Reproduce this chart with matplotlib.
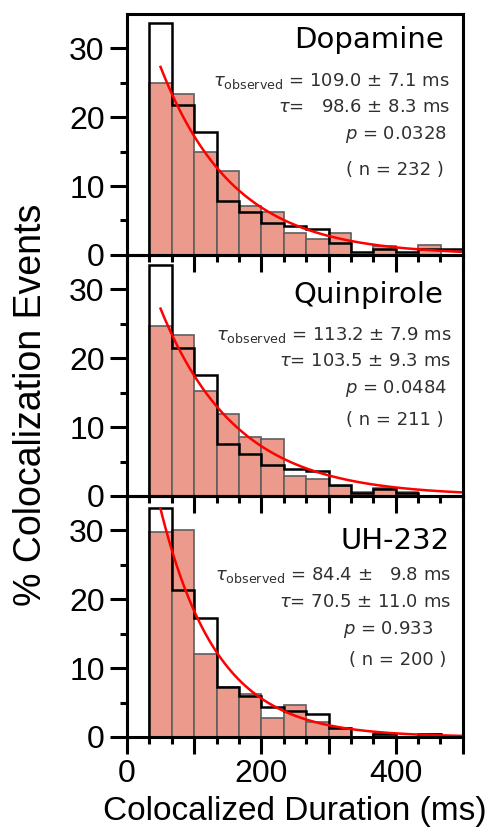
import numpy as np
import matplotlib
matplotlib.use("Agg")
import matplotlib.pyplot as plt
from matplotlib.ticker import MultipleLocator, FixedLocator, NullFormatter

# ---------------- data ----------------
bin_edges = [33.3, 66.7, 100.0, 133.3, 166.7, 200.0, 233.3, 266.7, 300.0,
             333.3, 366.7, 400.0, 433.3, 466.7, 500.0]

names = ["Dopamine", "Quinpirole", "UH-232"]

dopamine_fill = [25.0, 23.4, 14.9, 12.2, 7.1, 6.2, 3.2, 2.3, 3.2, 0.0, 1.3, 0.0, 1.4, 0.0]
dopamine_outline = [33.7, 21.7, 17.8, 7.8, 6.3, 4.7, 4.2, 3.8, 1.7, 0.4, 0.9, 0.4, 0.9, 0.9]

quinpirole_fill = [24.7, 23.3, 15.2, 11.9, 8.6, 8.2, 2.9, 2.5, 1.5, 0.6, 1.2, 0.6, 0.0, 0.0]
quinpirole_outline = [33.5, 21.5, 17.6, 7.6, 6.1, 4.5, 3.9, 3.6, 1.6, 0.5, 1.0, 0.5, 0.0, 0.0]

uh232_fill = [29.7, 30.1, 12.0, 7.3, 6.2, 2.8, 4.7, 2.2, 1.3, 0.0, 0.4, 0.0, 0.4, 0.0]
uh232_outline = [33.2, 21.3, 17.3, 7.3, 5.9, 4.3, 3.8, 3.3, 1.3, 0.0, 0.5, 0.0, 0.5, 0.0]

fill_values = [dopamine_fill, quinpirole_fill, uh232_fill]
outline_values = [dopamine_outline, quinpirole_outline, uh232_outline]

# exponential fits: amplitude at t0 and time constant (ms)
fit_t0 = 50.0
fit_amp = [27.3, 27.2, 33.1]
fit_tau = [109.0, 113.2, 84.4]

stat_lines = [
    [r"$\tau_{\mathrm{observed}}$ = 109.0 ± 7.1 ms", r"$\tau$=   98.6 ± 8.3 ms",
     r"$p$ = 0.0328", "( n = 232 )"],
    [r"$\tau_{\mathrm{observed}}$ = 113.2 ± 7.9 ms", r"$\tau$= 103.5 ± 9.3 ms",
     r"$p$ = 0.0484", "( n = 211 )"],
    [r"$\tau_{\mathrm{observed}}$ = 84.4 ±   9.8 ms", r"$\tau$= 70.5 ± 11.0 ms",
     r"$p$ = 0.933", "( n = 200 )"],
]

# ---------------- style ----------------
plt.rcParams["mathtext.fontset"] = "dejavusans"
label_font = ["Liberation Sans", "DejaVu Sans"]
text_font = ["DejaVu Sans"]

fig = plt.figure(figsize=(4.94, 8.32), dpi=100)
fig.patch.set_facecolor("white")

left, width, height = 0.257, 0.680, 0.2897
bottoms = [0.6936, 0.4039, 0.1142]

title_y = [30.0, 28.0, 27.3]
title_x = [471, 471, 481]
line_y = [[24.6, 20.8, 16.9, 11.6], [22.6, 18.9, 14.9, 10.3], [22.8, 18.9, 14.9, 10.4]]
line_x = [[481, 481, 476, 471], [483, 483, 476, 471], [483, 483, 456, 476]]

edges = np.array(bin_edges)
for i in range(3):
    ax = fig.add_axes([left, bottoms[i], width, height])
    ax.set_facecolor("none")
    ax.bar(edges[:-1], fill_values[i], width=np.diff(edges), align="edge",
           color="#EC9A8B", edgecolor="#5e5e5e", linewidth=1.2, zorder=2)
    ax.stairs(outline_values[i], edges, baseline=0, color="black",
              linewidth=1.8, zorder=3)
    t = np.linspace(fit_t0, 500, 300)
    ax.plot(t, fit_amp[i] * np.exp(-(t - fit_t0) / fit_tau[i]),
            color="#ff0000", linewidth=1.8, zorder=4)

    ax.set_xlim(0, 500)
    ax.set_ylim(0, 35)
    for s in ax.spines.values():
        s.set_linewidth(2.2)
        s.set_zorder(5)

    ax.yaxis.set_major_locator(FixedLocator([0, 10, 20, 30]))
    ax.yaxis.set_minor_locator(FixedLocator([5, 15, 25]))
    ax.xaxis.set_major_locator(MultipleLocator(100))
    ax.xaxis.set_minor_locator(MultipleLocator(100 / 3))
    ax.tick_params(axis="both", which="major", direction="out", length=12,
                   width=2.2, pad=4)
    ax.tick_params(axis="both", which="minor", direction="out", length=5,
                   width=2.2)
    for lab in ax.get_yticklabels():
        lab.set_fontfamily(label_font)
        lab.set_fontsize(23)
    if i < 2:
        ax.set_xticklabels([])
    else:
        ax.set_xticks([0, 100, 200, 300, 400, 500])
        ax.set_xticklabels(["0", "", "200", "", "400", ""],
                           fontfamily=label_font, fontsize=23)

    ax.text(title_x[i], title_y[i], names[i], ha="right", va="baseline",
            fontsize=21, family=text_font, color="black", zorder=6)
    for j, s in enumerate(stat_lines[i]):
        ax.text(line_x[i][j], line_y[i][j], s, ha="right", va="baseline",
                fontsize=13, family=text_font, color="#303030", zorder=6)

fig.text(0.063, 0.513, "% Colocalization Events", rotation=90, ha="center",
         va="center", fontsize=27, family=label_font)
fig.text(0.597, 0.0144, "Colocalized Duration (ms)", ha="center",
         va="baseline", fontsize=24, family=label_font)

fig.savefig("out.png", dpi=100)
